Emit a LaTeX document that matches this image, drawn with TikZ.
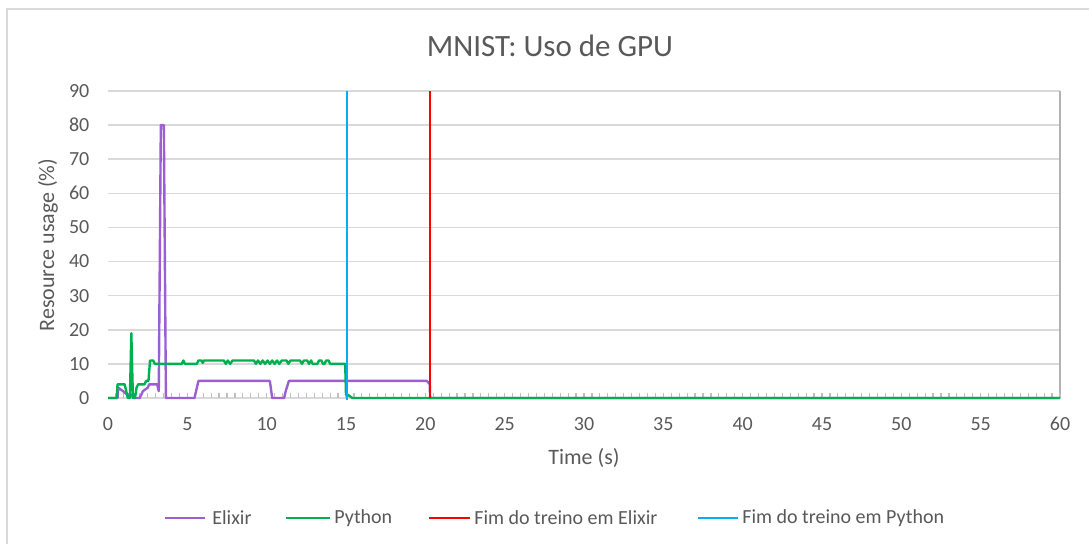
\documentclass[tikz,border=0pt]{standalone}
\usepackage{fontspec}
\setmainfont{Carlito}
\usepackage{tikz}
\usetikzlibrary{positioning}
\definecolor{gridgray}{HTML}{D9D9D9}
\definecolor{tickgray}{HTML}{BFBFBF}
\definecolor{textgray}{HTML}{595959}
\definecolor{elixirpurple}{HTML}{9B5FD3}
\definecolor{pythongreen}{HTML}{00B050}
\definecolor{endred}{HTML}{FF0000}
\definecolor{endblue}{HTML}{00B0F0}

\begin{document}
\begin{tikzpicture}[
    x=0.5pt, y=0.5pt,
    every node/.style={text=textgray, inner sep=0pt},
    ticklabel/.style={font=\fontsize{10}{12}\selectfont},
    axistitle/.style={font=\fontsize{11}{13}\selectfont},
    legendtext/.style={font=\fontsize{10}{12}\selectfont, anchor=west},
    gridline/.style={gridgray, line width=0.75pt},
    series/.style={line width=1.2pt, line join=round},
    marker/.style={line width=1pt}
]
\useasboundingbox (0,0) rectangle (1089,544);
\draw[gridgray, line width=0.8pt] (7,-10) rectangle (1100,535);
\node[font=\fontsize{15.5}{18}\selectfont] (title) at (550,498) {MNIST: Uso de GPU};

\begin{scope}[shift={(54pt,73pt)}, x=7.9333pt, y=1.7056pt]
% grid and axis
\foreach \v in {0,10,...,90}
    \draw[gridline] (0,\v) -- (60,\v);
\draw[gray!60, line width=0.75pt] (60,0) -- (60,90);
\foreach \t in {0.5,1,...,60}
    \draw[tickgray, line width=0.6pt] (\t,0) -- (\t,1.5);
\foreach \v in {0,10,...,90}
    \node[ticklabel, anchor=east] (y\v) at (-1.15,\v) {\v};
\foreach \t in {0,5,...,60}
    \node[ticklabel] (x\t) at (\t,-7.7) {\t};

% Elixir
\draw[series, elixirpurple] plot coordinates {
    (0,0) (0.6,0) (0.65,3) (0.95,2) (1.2,1) (1.5,1) (1.7,0) (2.0,0) (2.2,2)
    (2.5,3) (2.6,4) (3.1,4) (3.2,2) (3.33,80) (3.52,80) (3.65,0) (5.45,0)
    (5.55,2) (5.7,5) (10.2,5) (10.35,0) (11.1,0) (11.2,2) (11.4,5) (20.1,5)
    (20.28,4) (20.3,0) (60,0)};
% Python
\draw[series, pythongreen] plot coordinates {
    (0,0) (0.55,0) (0.6,4) (1.05,4) (1.25,0) (1.38,0) (1.47,19) (1.57,0)
    (1.7,0) (1.8,3) (1.9,4) (2.3,4) (2.4,5) (2.55,5) (2.65,11) (2.85,11)
    (2.95,10) (4.65,10) (4.75,11) (4.85,10) (5.6,10) (5.7,11) (5.9,11)
    (5.97,10.3) (6.05,11) (7.3,11) (7.42,10) (7.55,11) (7.7,10) (7.85,11)
    (9.2,11) (9.32,10) (9.45,11) (9.6,10) (9.75,11) (9.9,10) (10.05,11)
    (10.2,10) (10.35,11) (10.5,10) (10.65,11) (10.8,10) (10.95,11) (11.25,11)
    (11.37,10) (11.5,11) (12.1,11) (12.22,10) (12.35,11) (12.55,11)
    (12.67,10) (12.8,11) (12.9,10) (13.2,10) (13.3,11) (13.45,11) (13.55,10)
    (13.65,10) (13.75,11) (13.9,11) (14.0,10) (14.95,10) (15.0,1) (15.1,1)
    (15.4,0) (60,0)};
% end of training
\draw[marker, endred] (20.32,0) -- (20.32,90);
\draw[marker, endblue] (15.08,-0.5) -- (15.08,90);
\end{scope}

\node[axistitle] (xtitle) at (584,86) {Time (s)};
\node[axistitle, rotate=90] (ytitle) at (48,299) {Resource usage (\%)};

% legend
\node[legendtext] (lelixir) at (212,26) {Elixir};
\node[legendtext] (lpython) at (334,26) {Python};
\node[legendtext] (lredend) at (474,26) {Fim do treino em Elixir};
\node[legendtext] (lblueend) at (742,26) {Fim do treino em Python};
\draw[marker, elixirpurple] ([xshift=-3.5pt]lelixir.west) -- ++(-20pt,0);
\draw[marker, pythongreen] ([xshift=-2pt]lpython.west) -- ++(-22pt,0);
\draw[marker, endred] ([xshift=-2pt]lredend.west) -- ++(-20.5pt,0);
\draw[marker, endblue] ([xshift=-2pt]lblueend.west) -- ++(-20pt,0);
\end{tikzpicture}
\end{document}
